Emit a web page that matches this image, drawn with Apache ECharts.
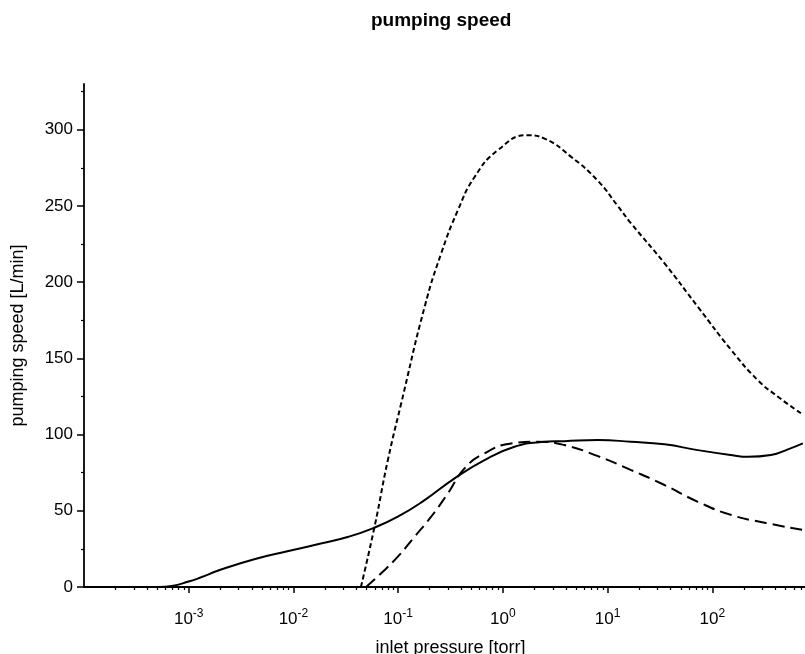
<!DOCTYPE html>
<html>
<head>
<meta charset="utf-8">
<script src="https://cdn.jsdelivr.net/npm/echarts@6/dist/echarts.min.js"></script>
<style>
html,body{margin:0;padding:0;background:#fff;overflow:hidden;}
#chart{width:805px;height:654px;}
</style>
</head>
<body>
<div id="chart"></div>
<script>
// ---- data ----
const titleText = 'pumping speed';
const xName = 'inlet pressure [torr]';
const yName = 'pumping speed [L/min]';

// solid curve
const solidP = [1e-4, 4.0e-4, 5.2e-4, 6.9e-4, 1.0e-3, 1.24e-3, 2.07e-3, 4.31e-3, 8.97e-3, 1.87e-2, 3.36e-2, 5.72e-2, 0.0993, 0.179, 0.346, 0.668, 1.29, 2.32, 3.88, 8.08, 16.7, 35.0, 72.8, 151, 219, 363, 528, 733];
const solidS = [0, 0, 0, 0.7, 3.6, 5.7, 11.6, 18.4, 23.6, 28.7, 33.0, 38.5, 46.1, 57.0, 71.3, 83.3, 92.0, 95.1, 95.7, 96.4, 95.3, 93.6, 89.8, 86.6, 85.4, 86.6, 90.3, 94.2];

// long-dashed curve
const longP = [0.0494, 0.0688, 0.0993, 0.1436, 0.2066, 0.2985, 0.4305, 0.668, 1.20, 2.16, 3.88, 8.08, 16.8, 35.0, 72.8, 152, 316, 733];
const longS = [0, 9.0, 19.9, 33.0, 46.1, 61.4, 77.8, 87.7, 94.2, 95.3, 93.1, 85.9, 76.7, 66.9, 55.9, 47.2, 42.2, 37.4];

// short-dashed curve
const shortP = [0.0441, 0.0595, 0.0798, 0.107, 0.179, 0.2575, 0.372, 0.537, 0.896, 1.73, 2.50, 4.49, 8.08, 12.5, 16.8, 35.0, 72.8, 152, 272, 424, 706];
const shortS = [0, 39.5, 83.3, 120.5, 183.8, 218.8, 247.2, 269.0, 286.6, 296.4, 294.2, 282.2, 266.5, 250.0, 238.5, 212.3, 183.8, 155.4, 135.7, 124.8, 113.9];

// axis ticks
const yMajorTicks = [0, 50, 100, 150, 200, 250, 300];
const yMinorTicks = [25, 75, 125, 175, 225, 275, 325];
const xMinExp = -4, xMaxExp = 3;

// ---- build ----
const FONT = 'Liberation Sans, Arial, Helvetica, sans-serif';
const zip = (a, b) => a.map((v, i) => [v, b[i]]);
const xMinorTicks = [];
for (let e = xMinExp; e < xMaxExp; e++) {
  for (let k = 2; k <= 9; k++) xMinorTicks.push(e + Math.log10(k));
}

const chart = echarts.init(document.getElementById('chart'), null, {renderer: 'canvas'});
const lineBase = {type: 'line', showSymbol: false, symbol: 'none', smooth: 0.5, animation: false, xAxisIndex: 0, yAxisIndex: 0};

chart.setOption({
  backgroundColor: '#fff',
  animation: false,
  title: {
    text: titleText, left: 366, top: 6,
    textStyle: {fontFamily: FONT, fontSize: 19, fontWeight: 'bold', color: '#000'}
  },
  grid: {left: 84, top: 84, right: -12, bottom: 67, outerBoundsMode: 'none', containLabel: false},
  xAxis: [{
    type: 'log', logBase: 10, min: Math.pow(10, xMinExp), max: Math.pow(10, xMaxExp),
    name: xName, nameLocation: 'middle', nameGap: 52,
    nameTextStyle: {fontFamily: FONT, fontSize: 18, color: '#000'},
    axisLine: {onZero: false, lineStyle: {color: '#000', width: 1.8}},
    axisTick: {show: true, length: 6, lineStyle: {color: '#000', width: 1.5}},
    splitLine: {show: false},
    axisLabel: {
      showMinLabel: false, showMaxLabel: false, margin: 21,
      formatter: v => '{b|10}{s|' + Math.round(Math.log10(v)) + '}',
      rich: {
        b: {fontFamily: FONT, fontSize: 17, lineHeight: 22, color: '#000'},
        s: {fontFamily: FONT, fontSize: 12, lineHeight: 12, verticalAlign: 'top', color: '#000'}
      }
    }
  }, {
    type: 'value', min: xMinExp, max: xMaxExp, position: 'bottom',
    axisLine: {show: false, onZero: false}, axisLabel: {show: false}, splitLine: {show: false},
    axisTick: {show: true, length: 3, customValues: xMinorTicks, lineStyle: {color: '#000', width: 1.2}}
  }],
  yAxis: [{
    type: 'value', min: 0, max: 330, position: 'left',
    name: yName, nameLocation: 'middle', nameGap: 57, nameRotate: 90,
    nameTextStyle: {fontFamily: FONT, fontSize: 18, color: '#000'},
    axisLine: {show: true, onZero: false, lineStyle: {color: '#000', width: 1.8}},
    axisTick: {show: true, length: 7, customValues: yMajorTicks, lineStyle: {color: '#000', width: 1.5}},
    axisLabel: {customValues: yMajorTicks, margin: 11, fontFamily: FONT, fontSize: 17, color: '#000'},
    splitLine: {show: false}
  }, {
    type: 'value', min: 0, max: 330, position: 'left',
    axisLine: {show: false, onZero: false}, axisLabel: {show: false}, splitLine: {show: false},
    axisTick: {show: true, length: 3, customValues: yMinorTicks, lineStyle: {color: '#000', width: 1.2}}
  }],
  series: [
    Object.assign({}, lineBase, {name: 'solid', data: zip(solidP, solidS), lineStyle: {color: '#000', width: 2, type: 'solid'}}),
    Object.assign({}, lineBase, {name: 'long dash', data: zip(longP, longS), lineStyle: {color: '#000', width: 2, type: [12, 6]}}),
    Object.assign({}, lineBase, {name: 'short dash', data: zip(shortP, shortS), lineStyle: {color: '#000', width: 2, type: [5, 3]}})
  ]
});
</script>
</body>
</html>
